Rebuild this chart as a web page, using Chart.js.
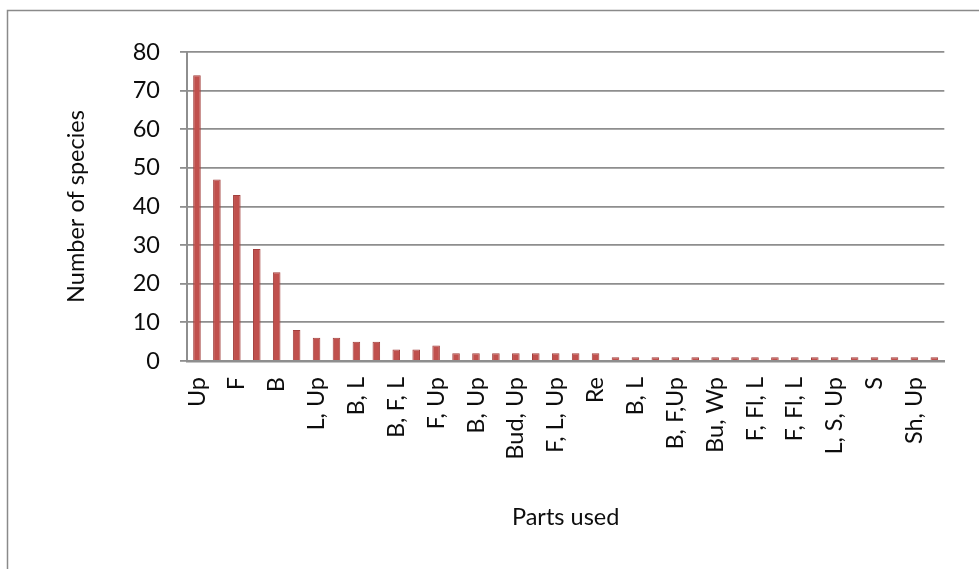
<!DOCTYPE html>
<html>
<head>
<meta charset="utf-8">
<script src="https://cdn.jsdelivr.net/npm/chart.js@4/dist/chart.umd.min.js"></script>
<style>
  html, body { margin: 0; padding: 0; background: #ffffff; }
  #wrap { width: 979px; height: 569px; position: relative; }
</style>
</head>
<body>
<div id="wrap"><canvas id="c" width="979" height="569"></canvas></div>
<script>
// Plant parts used and the number of species recorded for each combination
const partsUsed = [
  "Up", "L", "F", "R", "B", "Wp", "L, Up", "F, L", "B, L", "B, R",
  "B, F, L", "F, R", "F, Up", "L, R", "B, Up", "B, Wp", "Bud, Up", "F, L, R", "F, L, Up", "L, Wp",
  "Re", "B, F", "B, L", "B, F, R", "B, F,Up", "Bu, L", "Bu, Wp", "F, Fl", "F, Fl, L", "F, Fl, Up",
  "F, Fl, L", "L, S", "L, S, Up", "R, Up", "S", "S, Up", "Sh, Up", "Wp, Up"
];
const speciesCount = [
  74, 47, 43, 29, 23, 8, 6, 6, 5, 5,
  3, 3, 4, 2, 2, 2, 2, 2, 2, 2,
  2, 1, 1, 1, 1, 1, 1, 1, 1, 1,
  1, 1, 1, 1, 1, 1, 1, 1
];
const yTicks = [0, 10, 20, 30, 40, 50, 60, 70, 80];

const FONT = "Lato";
const FONT_SIZE = 23.5;
const TEXT = "#0d0d0d";
const GRID = "#8e8e8e";

// Thin frame around the whole chart object
const framePlugin = {
  id: "frame",
  beforeDraw(chart) {
    const ctx = chart.ctx;
    ctx.save();
    ctx.strokeStyle = "#8a8a8a";
    ctx.lineWidth = 1.5;
    ctx.beginPath();
    ctx.moveTo(7.5, 580);
    ctx.lineTo(7.5, 10.5);
    ctx.lineTo(990, 10.5);
    ctx.stroke();
    ctx.restore();
  }
};

new Chart(document.getElementById("c"), {
  type: "bar",
  data: {
    labels: partsUsed,
    datasets: [{
      data: speciesCount,
      backgroundColor: "#c0504d",
      borderColor: "#a23f3c",
      borderWidth: 1,
      barPercentage: 0.38,
      categoryPercentage: 1.0
    }]
  },
  options: {
    responsive: false,
    animation: false,
    layout: { padding: { top: 52, left: 58, right: 34, bottom: 30 } },
    plugins: { legend: { display: false }, tooltip: { enabled: false } },
    scales: {
      x: {
        grid: { display: false, drawTicks: false },
        border: { display: true, color: GRID, width: 2.5 },
        ticks: {
          autoSkip: false,
          minRotation: 90,
          maxRotation: 90,
          padding: 16,
          color: TEXT,
          font: { family: FONT, size: FONT_SIZE },
          callback(value, index) { return index % 2 === 0 ? partsUsed[index] : ""; }
        },
        title: {
          display: true,
          text: "Parts used",
          color: TEXT,
          font: { family: FONT, size: FONT_SIZE },
          padding: { top: 4, bottom: 7 }
        },
        afterFit(scale) { scale.height = 569 - 30 - 361; }
      },
      y: {
        min: 0,
        max: 80,
        afterBuildTicks(scale) { scale.ticks = yTicks.map(v => ({ value: v })); },
        grid: { color: GRID, lineWidth: 1.8, tickLength: 7, tickColor: GRID },
        border: { display: true, color: GRID, width: 2 },
        ticks: {
          padding: 20,
          color: TEXT,
          font: { family: FONT, size: FONT_SIZE }
        },
        title: {
          display: true,
          text: "Number of species",
          color: TEXT,
          font: { family: FONT, size: FONT_SIZE },
          padding: { top: 4, bottom: 4 }
        },
        afterFit(scale) { scale.width = 187 - 58; }
      }
    }
  },
  plugins: [framePlugin]
});
</script>
</body>
</html>
